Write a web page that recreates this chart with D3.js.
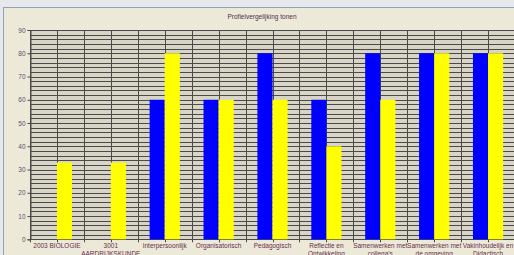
<!DOCTYPE html>
<html><head><meta charset="utf-8">
<script src="https://cdn.jsdelivr.net/npm/d3@7/dist/d3.min.js"></script>
<style>
html,body{margin:0;padding:0;background:#e6e8eb;overflow:hidden;}
svg{display:block;}
</style></head>
<body>
<svg id="c" width="514" height="255"></svg>
<script>
const categories = [
  ["2003 BIOLOGIE"],
  ["3001", "AARDRIJKSKUNDE"],
  ["Interpersoonlijk"],
  ["Organisatorisch"],
  ["Pedagogisch"],
  ["Reflectie en", "Ontwikkeling"],
  ["Samenwerken met", "collega's"],
  ["Samenwerken met", "de omgeving"],
  ["Vakinhoudelijk en", "Didactisch"]
];
const blueValues   = [0, 0, 60, 60, 80, 60, 80, 80, 80];
const yellowValues = [33, 33, 80, 60, 60, 40, 60, 80, 80];
const yTicks = [0, 10, 20, 30, 40, 50, 60, 70, 80, 90];
const title = "Profielvergelijking tonen";

const svg = d3.select("#c");
const W = 514, H = 255;

// window frame
svg.append("rect").attr("x", 3.5).attr("y", 7.5).attr("width", W).attr("height", H)
  .attr("fill", "#ece9d8").attr("stroke", "#8ea3b6").attr("stroke-width", 1);

const x = d3.scaleBand().domain(d3.range(categories.length)).range([30, 515]).padding(0);
const y = d3.scaleLinear().domain([0, 90]).range([239.3, 30]);

// plot background
svg.append("rect").attr("x", 30).attr("y", y(90)).attr("width", 515 - 30).attr("height", y(0) - y(90))
  .attr("fill", "#d8d5c6");

// horizontal grid every 2 units
const hGrid = d3.range(0, 91, 2);
svg.append("g").selectAll("line").data(hGrid).join("line")
  .attr("x1", 30).attr("x2", 515)
  .attr("y1", d => Math.round(y(d)) + 0.5).attr("y2", d => Math.round(y(d)) + 0.5)
  .attr("stroke", "#4a4a4a").attr("stroke-width", 1);

// vertical grid at band boundaries and centers
const vGrid = [];
categories.forEach((c, i) => { vGrid.push(x(i)); vGrid.push(x(i) + x.bandwidth() / 2); });
svg.append("g").selectAll("line").data(vGrid).join("line")
  .attr("x1", d => Math.round(d) + 0.5).attr("x2", d => Math.round(d) + 0.5)
  .attr("y1", y(90)).attr("y2", y(0) + 3)
  .attr("stroke", "#4a4a4a").attr("stroke-width", 1);

// bars
const bw = x.bandwidth() * 0.28;
const g = svg.append("g");
g.selectAll("rect.b").data(blueValues).join("rect").attr("class", "b")
  .attr("x", (d, i) => x(i) + x.bandwidth() / 2 - bw)
  .attr("y", d => y(d)).attr("width", bw).attr("height", d => y(0) - y(d))
  .attr("fill", "#0000ff");
g.selectAll("rect.yl").data(yellowValues).join("rect").attr("class", "yl")
  .attr("x", (d, i) => x(i) + x.bandwidth() / 2)
  .attr("y", d => y(d)).attr("width", bw).attr("height", d => y(0) - y(d))
  .attr("fill", "#ffff00");

// y axis
const yAxis = d3.axisLeft(y).tickValues(yTicks).tickSize(3).tickPadding(2);
const ya = svg.append("g").attr("transform", "translate(30.5,0)").call(yAxis);
ya.select(".domain").attr("stroke", "#4a4a4a");
ya.selectAll(".tick line").attr("stroke", "#4a4a4a");
ya.selectAll(".tick text").attr("font-family", "Liberation Sans, Arial, sans-serif")
  .attr("font-size", 6.5).attr("fill", "#5c4f6e");

// x labels
const xl = svg.append("g");
categories.forEach((lines, i) => {
  const t = xl.append("text")
    .attr("x", x(i) + x.bandwidth() / 2)
    .attr("y", 248)
    .attr("text-anchor", "middle")
    .attr("font-family", "Liberation Sans, Arial, sans-serif")
    .attr("font-size", 6.5)
    .attr("fill", "#6a2c4c");
  lines.forEach((l, j) => {
    t.append("tspan").attr("x", x(i) + x.bandwidth() / 2).attr("dy", j === 0 ? 0 : 8).text(l);
  });
});

// title
svg.append("text").attr("x", 262).attr("y", 19).attr("text-anchor", "middle")
  .attr("font-family", "Liberation Sans, Arial, sans-serif").attr("font-size", 6.5)
  .attr("fill", "#4e2f52").text(title);
</script>
</body></html>
